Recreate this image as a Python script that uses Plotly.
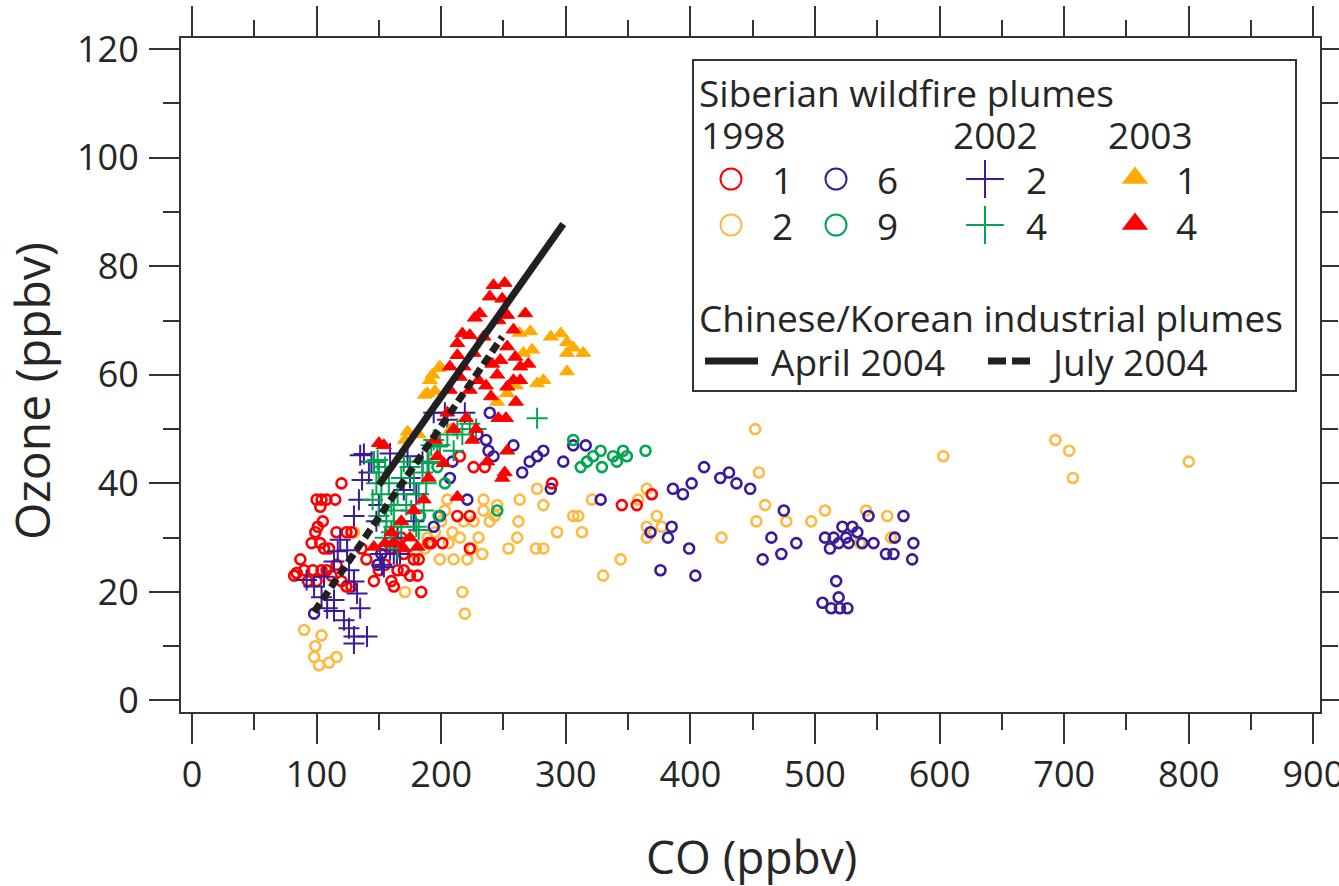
import plotly.graph_objects as go

# ---------------- data (CO ppbv, O3 ppbv) ----------------
co_1998_1 = [82, 84, 87, 90, 93, 97, 100, 104, 108, 112, 116, 120, 124, 128, 96, 99, 103, 106, 110, 101,
             105, 100, 104, 108, 115, 120, 103, 116, 124, 128, 136, 140, 146, 150, 155, 160, 162, 165, 170, 175,
             182, 184, 160, 165, 170, 168, 178, 190, 201, 213, 223, 223, 215, 226, 235, 289, 345, 357, 369, 181, 192]
o3_1998_1 = [23, 23.5, 26, 24, 22, 24, 22, 24, 24, 23, 25, 22, 21, 21, 29, 31, 29, 28, 28, 32,
             33, 37, 37, 37, 37, 40, 35.7, 31, 31, 31, 28, 26, 22, 24, 25, 22, 21, 24, 24, 23,
             26, 20, 28, 29, 27, 30, 26, 29, 29, 34, 34, 28, 45, 43, 43, 40, 36, 36, 38, 23, 29]

co_1998_2 = [90, 104, 99, 98, 102, 110, 116, 84, 130, 171, 205, 217, 219, 233, 234, 234, 239, 218, 209, 215,
             206, 199, 210, 221, 187, 189, 226, 243, 245, 230, 225, 195, 180, 200, 203, 254, 261, 262, 263, 277,
             282, 276, 282, 293, 306, 310, 313, 321, 330, 344, 358, 365, 365, 373, 377, 365, 425, 452, 455, 460,
             453, 477, 497, 508, 536, 541, 558, 561, 603, 693, 704, 707, 800]
o3_1998_2 = [13, 12, 10, 8, 6.5, 7, 8, 23.4, 31, 20, 37, 20, 16, 27, 37, 35, 33, 33, 31, 30,
             29, 26, 26, 26, 28, 30, 33, 34, 36, 30, 28, 31, 27, 33, 35, 28, 30, 33, 37, 39,
             36, 28, 28, 31, 34, 34, 31, 37, 23, 26, 37, 39, 32, 34, 32, 30, 30, 50, 42, 36,
             33, 33, 33, 35, 29, 35, 34, 30, 45, 48, 46, 41, 44]

co_1998_6 = [98, 149, 152, 194, 199, 207, 209, 221, 229, 236, 238, 242, 239, 258, 265, 271, 277, 282, 288, 298,
             306, 316, 328, 368, 376, 382, 385, 386, 394, 399, 401, 404, 411, 424, 431, 437, 448, 458, 465, 473,
             475, 485, 506, 508, 512, 513, 517, 519, 519, 520, 522, 526, 527, 530, 534, 543, 547, 557, 563, 564,
             571, 578, 579, 515, 525, 538]
o3_1998_6 = [16, 25, 27, 32, 34, 41, 44, 37, 49, 48, 46, 45, 53, 47, 42, 44, 45, 46, 39, 44,
             47, 47, 37, 31, 24, 30, 32, 39, 38, 28, 40, 23, 43, 41, 42, 40, 39, 26, 30, 27,
             35, 29, 18, 30, 28, 17, 22, 19, 29, 17, 32, 17, 29, 32, 31, 34, 29, 27, 27, 30,
             34, 26, 29, 30, 30, 29]

co_1998_9 = [183, 198, 203, 197, 245, 306, 312, 317, 328, 329, 338, 341, 346, 349, 364, 322]
o3_1998_9 = [34, 34, 40, 43, 35, 48, 43, 44, 46, 43, 45, 44, 46, 45, 46, 45]

co_2002_2 = [138, 144, 136.5, 134, 130, 119, 117, 114, 106, 92, 98, 114, 108.5, 114, 130, 132.5, 135, 122, 126, 130,
             140.5, 130, 152.5, 162, 167, 135, 146, 173, 159, 170, 178, 124.5, 159, 151, 164.5, 154, 205, 219, 203, 194,
             150, 142, 165, 175, 185, 180, 148, 126, 104]
o3_2002_2 = [45.4, 44, 40.6, 37, 34, 29.6, 27.5, 25.6, 22.8, 22.2, 21, 18.5, 17, 16.5, 21.9, 19.7, 17, 14.8, 13.3, 11.8,
             11.8, 10.5, 25, 27, 27, 45.2, 44, 45, 45.5, 38.8, 33, 27.7, 27.7, 27, 27, 24.6, 51.7, 53, 53, 53,
             36, 42, 30, 41, 44, 38, 33, 24, 19]

co_2002_4 = [146, 150, 155, 148, 152, 158, 160, 145, 150, 156, 162, 165, 168, 170, 175, 178, 172, 168, 160, 155,
             176, 182, 185, 190, 192, 194, 199, 205, 213, 217, 223, 277, 188, 186, 180, 165, 149, 189, 197, 182,
             162, 228, 210]
o3_2002_4 = [44, 42, 43, 40, 38, 40, 36, 37, 34, 33, 35, 38, 41, 44, 43, 40, 36, 32, 31, 30,
             35, 38, 42, 44, 47, 48, 47, 49, 50, 49, 51, 52, 40, 35, 32, 28, 44.3, 43.7, 46.8, 31.4,
             32, 50, 46]

co_2003_1 = [173, 182, 187, 189, 191, 193, 195, 198, 199, 263, 266, 271.5, 273, 277, 282, 288, 296, 301, 306, 314,
             301, 301, 253, 260, 171, 208, 245]
o3_2003_1 = [49.5, 49, 56.3, 56.6, 59, 60, 57, 61.2, 61.5, 67.7, 64, 68, 64.6, 58.4, 59, 67, 67.6, 66, 65, 64,
             64, 60.6, 56.6, 58, 48, 50, 55]

co_2003_4 = [242, 251, 239, 249, 231, 227, 267.5, 253, 246, 258, 217, 223, 213, 234, 226, 213, 253, 259.5, 247.5, 241,
             263.5, 207, 218, 215, 263.5, 253, 223, 240, 207, 230, 236, 245, 150, 154, 186, 197, 202, 213, 237, 249,
             251, 253, 181, 162, 146, 155, 170, 175, 160, 168, 178, 190, 195, 205, 210, 220, 225, 228, 246, 252,
             260, 258, 270]
o3_2003_4 = [76.5, 76.9, 74.4, 74, 71.3, 70.5, 71.3, 71, 70, 68.3, 67.6, 67.3, 65.8, 67, 64, 63.6, 65.2, 63.3, 62.7, 62,
             61.5, 61.5, 61.5, 59.6, 59, 57.8, 57.2, 56, 57.2, 59, 58, 60, 47.4, 47, 37, 45, 43.7, 37.5, 44, 41,
             42, 46, 28.3, 29, 28.3, 29, 28, 30, 31, 33, 35, 41, 48, 53, 50, 52, 48, 50, 52, 52,
             55, 59, 62]

co_april_2004 = [150, 298]
o3_april_2004 = [39.7, 87.8]
co_july_2004 = [98, 249]
o3_july_2004 = [16.3, 67.0]

x_ticks = [0, 100, 200, 300, 400, 500, 600, 700, 800, 900]
x_minor = [50, 150, 250, 350, 450, 550, 650, 750, 850]
y_ticks = [0, 20, 40, 60, 80, 100, 120]
y_minor = [10, 30, 50, 70, 90, 110]

# ---------------- styles ----------------
RED = "#ff0000"
ORANGE_C = "#ffb940"
ORANGE_T = "#ffab00"
PURPLE = "#3a1c9a"
GREEN = "#00a651"
BLACK = "#231f20"
AXC = "#333333"
TXT = "#262626"
FONT = "Open Sans"

W, H = 1339, 886
L, R, T, B = 181, 1320, 38, 712

fig = go.Figure()

def circles(x, y, col):
    return go.Scatter(x=x, y=y, mode="markers", showlegend=False, hoverinfo="skip",
                      marker=dict(symbol="circle-open", size=10, color=col, line=dict(width=2.6, color=col)))

def crosses(x, y, col):
    return go.Scatter(x=x, y=y, mode="markers", showlegend=False, hoverinfo="skip",
                      marker=dict(symbol="cross-thin-open", size=15, color=col, line=dict(width=2, color=col)))

def tris(x, y, col):
    return go.Scatter(x=x, y=y, mode="markers", showlegend=False, hoverinfo="skip",
                      marker=dict(symbol="triangle-up", size=13, color=col, line=dict(width=1, color=col)))

fig.add_trace(circles(co_1998_2, o3_1998_2, ORANGE_C))
fig.add_trace(circles(co_1998_6, o3_1998_6, PURPLE))
fig.add_trace(circles(co_1998_9, o3_1998_9, GREEN))
fig.add_trace(circles(co_1998_1, o3_1998_1, RED))
fig.add_trace(crosses(co_2002_2, o3_2002_2, PURPLE))
fig.add_trace(crosses(co_2002_4, o3_2002_4, GREEN))
fig.add_trace(tris(co_2003_1, o3_2003_1, ORANGE_T))
fig.add_trace(tris(co_2003_4, o3_2003_4, RED))
fig.add_trace(go.Scatter(x=co_july_2004, y=o3_july_2004, mode="lines", showlegend=False, hoverinfo="skip",
                         line=dict(color=BLACK, width=7, dash="10px,5px")))
fig.add_trace(go.Scatter(x=co_april_2004, y=o3_april_2004, mode="lines", showlegend=False, hoverinfo="skip",
                         line=dict(color=BLACK, width=7)))

# ---------------- custom legend on a pixel-space overlay axis ----------------
leg_rows = [179, 225]
leg_items = [
    (731, 0, "circle-open", RED, "1"),
    (836, 0, "circle-open", PURPLE, "6"),
    (985, 0, "cross-thin-open", PURPLE, "2"),
    (1135, 0, "triangle-up", ORANGE_T, "1"),
    (731, 1, "circle-open", ORANGE_C, "2"),
    (836, 1, "circle-open", GREEN, "9"),
    (985, 1, "cross-thin-open", GREEN, "4"),
    (1135, 1, "triangle-up", RED, "4"),
]
label_dx = 51
annots = []
for xs, row, sym, col, lab in leg_items:
    yv = leg_rows[row]
    if sym == "circle-open":
        mk = dict(symbol=sym, size=21, color=col, line=dict(width=2, color=col))
    elif sym == "cross-thin-open":
        mk = dict(symbol=sym, size=27, color=col, line=dict(width=2, color=col))
    else:
        mk = dict(symbol=sym, size=23, color=col, line=dict(width=0))
        yv = yv - 1
    fig.add_trace(go.Scatter(x=[xs], y=[yv], mode="markers", marker=mk, showlegend=False,
                             hoverinfo="skip", xaxis="x2", yaxis="y2"))
    annots.append(dict(x=xs + label_dx, y=leg_rows[row], xref="x2", yref="y2", text=lab,
                       showarrow=False, xanchor="center", yanchor="middle",
                       font=dict(family=FONT, size=37, color=TXT)))

fig.add_trace(go.Scatter(x=[705, 758], y=[361, 361], mode="lines", line=dict(color=BLACK, width=7),
                         showlegend=False, hoverinfo="skip", xaxis="x2", yaxis="y2"))
fig.add_trace(go.Scatter(x=[988, 1030], y=[361, 361], mode="lines", line=dict(color=BLACK, width=7, dash="18px,6px"),
                         showlegend=False, hoverinfo="skip", xaxis="x2", yaxis="y2"))

def ltext(x, y, s, anchor="left"):
    annots.append(dict(x=x, y=y, xref="x2", yref="y2", text=s, showarrow=False,
                       xanchor=anchor, yanchor="middle", font=dict(family=FONT, size=37, color=TXT)))

ltext(697, 92, "Siberian wildfire plumes")
ltext(699, 134, "1998")
ltext(951, 134, "2002")
ltext(1106, 134, "2003")
ltext(697, 317, "Chinese/Korean industrial plumes")
ltext(769, 361, "April 2004")
ltext(1048, 361, "July 2004")

# axis titles
annots.append(dict(x=(751 - L) / (R - L), y=(B - 856) / (B - T), xref="paper", yref="paper",
                   text="CO (ppbv)", showarrow=False, xanchor="center", yanchor="middle",
                   font=dict(family=FONT, size=46, color=TXT)))
annots.append(dict(x=(32 - L) / (R - L), y=(B - 391) / (B - T), xref="paper", yref="paper",
                   text="Ozone (ppbv)", showarrow=False, xanchor="center", yanchor="middle", textangle=-90,
                   font=dict(family=FONT, size=48, color=TXT)))

shapes = [dict(type="rect", xref="x2", yref="y2", x0=693, x1=1296, y0=60, y1=391,
               line=dict(color=AXC, width=2), fillcolor="rgba(0,0,0,0)", layer="above")]

axis_common = dict(showgrid=False, zeroline=False, showline=True, linewidth=2, linecolor=AXC,
                   ticks="outside", ticklen=30, tickwidth=2, tickcolor=AXC, mirror="ticks",
                   tickfont=dict(family=FONT, size=36, color=TXT), tickmode="array", automargin=False,
                   ticklabeloverflow="allow")

fig.update_layout(
    width=W, height=H,
    margin=dict(l=L, r=W - R, t=T, b=H - B, pad=0, autoexpand=False),
    paper_bgcolor="white", plot_bgcolor="white",
    showlegend=False,
    xaxis=dict(range=[-8.8, 905.3], tickvals=x_ticks, ticktext=[str(v) for v in x_ticks],
               minor=dict(tickvals=x_minor, ticks="outside", ticklen=16, tickwidth=2, tickcolor=AXC),
               ticklabelstandoff=0, **axis_common),
    yaxis=dict(range=[-2.12, 122.05], tickvals=y_ticks, ticktext=[str(v) for v in y_ticks],
               minor=dict(tickvals=y_minor, ticks="outside", ticklen=16, tickwidth=2, tickcolor=AXC),
               ticklabelstandoff=3, **axis_common),
    xaxis2=dict(range=[L, R], overlaying="x", anchor="y2", visible=False, fixedrange=True, automargin=False),
    yaxis2=dict(range=[B, T], overlaying="y", anchor="x2", visible=False, fixedrange=True, automargin=False),
    annotations=annots,
    shapes=shapes,
)

fig.write_html("out.html")
